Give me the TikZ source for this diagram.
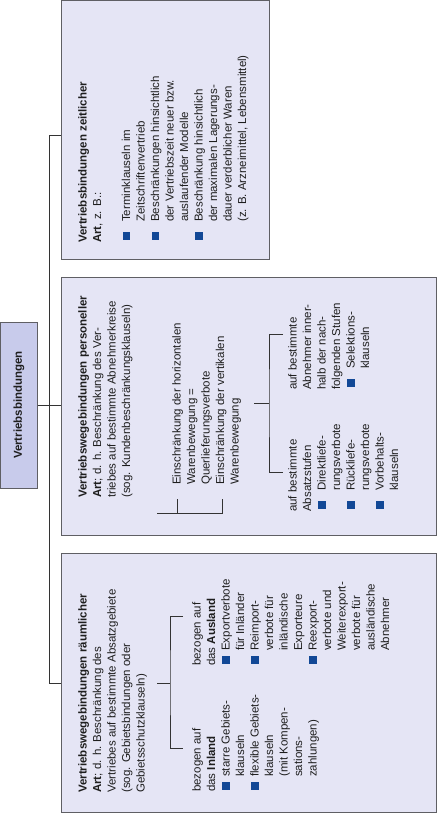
\documentclass[tikz,border=0pt]{standalone}
\usepackage{fontspec}
\setmainfont{Liberation Sans}
\usepackage{xcolor}
\usetikzlibrary{positioning}
\definecolor{boxfill}{RGB}{229,229,245}
\definecolor{rootfill}{RGB}{200,203,235}
\definecolor{boxline}{RGB}{95,95,100}
\definecolor{bulblue}{RGB}{18,72,150}
\definecolor{txtcol}{RGB}{30,30,30}
\newcommand{\sq}{\textcolor{bulblue}{\rule{7.5bp}{7.5bp}}}
\newcommand{\bul}{\makebox[21bp][l]{\hspace{3bp}\sq}}
\newcommand{\ind}{\hspace*{21bp}}
\newcommand{\bulr}{\makebox[15bp][l]{\hspace{2bp}\sq}}
\newcommand{\indr}{\hspace*{15bp}}

\begin{document}
\begin{tikzpicture}[x=1bp,y=-1bp,
    every node/.style={font=\fontsize{11.5bp}{14.5bp}\selectfont,text=txtcol},
    box/.style={draw=boxline,fill=boxfill,line width=1bp,inner sep=0pt},
    txt/.style={rotate=90,anchor=north west,inner sep=0pt,align=left},
    conn/.style={draw=black!80,line width=0.9bp}]
  \useasboundingbox (0,0) rectangle (438,813);

  % root and the three boxes
  \node[box,fill=rootfill,rotate=90,minimum width=166bp,minimum height=36bp,
        font=\fontsize{11.5bp}{14.5bp}\selectfont\bfseries] (root) at (19,405) {Vertriebsbindungen};
  \node[box,minimum width=207bp,minimum height=258bp] (zeit) at (165.5,130) {};
  \node[box,minimum width=374bp,minimum height=258bp] (pers) at (249,406) {};
  \node[box,minimum width=374bp,minimum height=259bp] (raum) at (249,682.5) {};

  % tree
  \coordinate (t1) at (49,135);
  \coordinate (t3) at (49,683);
  \draw[conn] (t1) -- (t3);
  \draw[conn] (t1) -- (t1 -| zeit.west);
  \draw[conn] (root.south) -- (root.south -| pers.west);
  \draw[conn] (t3) -- (t3 -| raum.west);

  % zeitlicher
  \node[txt] (zt) at (76.3,243) {\strut\textbf{Vertriebsbindungen zeitlicher}\\
    \textbf{Art}, z. B.:\\[14.5bp]
    \bul Terminklauseln im\\
    \ind Zeitschriftenvertrieb\\
    \bul Beschränkungen hinsichtlich\\
    \ind der Vertriebszeit neuer bzw.\\
    \ind auslaufender Modelle\\
    \bul Beschränkung hinsichtlich\\
    \ind der maximalen Lagerungs-\\
    \ind dauer verderblicher Waren\\
    \ind (z. B. Arzneimittel, Lebensmittel)};

  % personeller
  \node[txt] (pt) at (76.3,498) {\strut\textbf{Vertriebswegebindungen personeller}\\
    \textbf{Art}; d. h. Beschränkung des Ver-\\
    triebes auf bestimmte Abnehmerkreise\\
    (sog. Kundenbeschränkungsklauseln)};
  \node[txt] (pe) at (170.3,485) {\strut Einschränkung der horizontalen\\
    Warenbewegung =\\
    Querlieferungsverbote\\
    Einschränkung der vertikalen\\
    Warenbewegung};
  \node[txt] (pa) at (286.3,512) {\strut auf bestimmte\\
    Absatzstufen\\
    \bul Direktliefe-\\
    \ind rungsverbote\\
    \bul Rückliefe-\\
    \ind rungsverbote\\
    \bul Vorbehalts-\\
    \ind klauseln};
  \node[txt] (pb) at (286.3,390) {\strut auf bestimmte\\
    Abnehmer inner-\\
    halb der nach-\\
    folgenden Stufen\\
    \bul Selektions-\\
    \ind klauseln};
  \coordinate (e1) at (157,513); \coordinate (e2) at (222,513);
  \draw[conn] (e1) -- (e2) -- ++(0,-14);
  \draw[conn] (177,513) -- ++(0,-14);
  \coordinate (s1) at (254,403); \coordinate (s2) at (269,403);
  \draw[conn] (s1) -- (s2);
  \draw[conn] (283,334) -| (s2) |- (283,472);

  % raeumlicher
  \node[txt] (rt) at (76.3,793) {\strut\textbf{Vertriebswegebindungen räumlicher}\\
    \textbf{Art}; d. h. Beschränkung des\\
    Vertriebes auf bestimmte Absatzgebiete\\
    (sog. Gebietsbindungen oder\\
    Gebietsschutzklauseln)};
  \node[txt] (ra) at (190.3,792) {\strut bezogen auf\\
    das \textbf{Inland}\\
    \bulr starre Gebiets-\\
    \indr klauseln\\
    \bulr flexible Gebiets-\\
    \indr klauseln\\
    \indr (mit Kompen-\\
    \indr sations-\\
    \indr zahlungen)};
  \node[txt] (rb) at (190.3,666) {\strut bezogen auf\\
    das \textbf{Ausland}\\
    \bulr Exportverbote\\
    \indr für Inländer\\
    \bulr Reimport-\\
    \indr verbote für\\
    \indr inländische\\
    \indr Exporteure\\
    \bulr Reexport-\\
    \indr verbote und\\
    \indr Weiterexport-\\
    \indr verbote für\\
    \indr ausländische\\
    \indr Abnehmer};
  \coordinate (r1) at (157,683); \coordinate (r2) at (170,683);
  \draw[conn] (r1) -- (r2);
  \draw[conn] (183,616) -| (r2) |- (183,748);
\end{tikzpicture}
\end{document}
